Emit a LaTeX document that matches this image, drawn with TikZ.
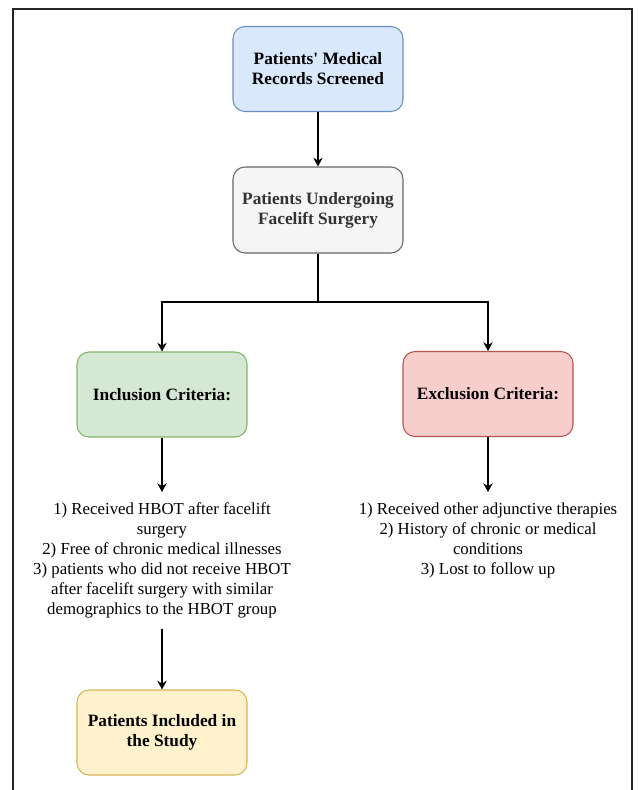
\documentclass[tikz,border=0pt]{standalone}
\usepackage{fontspec}
\setmainfont{Liberation Serif}
\usetikzlibrary{arrows.meta}
\definecolor{bluefill}{HTML}{DAE8FC}\definecolor{blueline}{HTML}{6C8EBF}
\definecolor{grayfill}{HTML}{F5F5F5}\definecolor{grayline}{HTML}{666666}
\definecolor{greenfill}{HTML}{D5E8D4}\definecolor{greenline}{HTML}{82B366}
\definecolor{redfill}{HTML}{F8CECC}\definecolor{redline}{HTML}{B85450}
\definecolor{yellowfill}{HTML}{FFF2CC}\definecolor{yellowline}{HTML}{D6B656}
\definecolor{darktext}{HTML}{333333}
\tikzset{
  boxnode/.style={draw, rounded corners=9pt, line width=0.8pt, minimum width=127.5pt, minimum height=63.75pt,
    align=center, font=\fontsize{13pt}{15pt}\selectfont\bfseries},
  listnode/.style={align=center, inner sep=6pt, font=\fontsize{12.6pt}{15pt}\selectfont},
  conn/.style={line width=1.1pt, -{Stealth[length=6.5pt,width=7pt]}}
}
\begin{document}
\begin{tikzpicture}[x=0.75pt,y=-0.75pt]
\useasboundingbox (0,0) rectangle (637,790);
\draw[line width=1.1pt, color=black!85] (13,790) -- (13,9) -- (632,9) -- (632,790);
\node[boxnode, fill=bluefill, draw=blueline] (b1) at (318,69) {Patients\textquotesingle{} Medical\\Records Screened};
\node[boxnode, fill=grayfill, draw=grayline, text=darktext, minimum height=64.5pt] (b2) at (318,210) {Patients Undergoing\\Facelift Surgery};
\node[boxnode, fill=greenfill, draw=greenline] (inc) at (162,394.5) {Inclusion Criteria:};
\node[boxnode, fill=redfill, draw=redline] (exc) at (488,394) {Exclusion Criteria:};
\node[listnode, anchor=north, minimum height=102pt] (inctext) at (162,492) {1) Received HBOT after facelift\\surgery\\2) Free of chronic medical illnesses\\3) patients who did not receive HBOT\\after facelift surgery with similar\\demographics to the HBOT group};
\node[listnode, anchor=north, minimum height=72pt] (exctext) at (488,492) {1) Received other adjunctive therapies\\2) History of chronic or medical\\conditions\\3) Lost to follow up};
\node[boxnode, fill=yellowfill, draw=yellowline] (fin) at (162,732.5) {Patients Included in\\the Study};
\draw[conn] (b1) -- (b2);
\coordinate (split) at (318,302);
\draw[line width=1.1pt] (b2.south) -- (split);
\draw[conn] (split) -| (inc.north);
\draw[conn] (split) -| (exc.north);
\draw[conn] (inc.south) -- (inctext.north);
\draw[conn] (exc.south) -- (exctext.north);
\draw[conn] (inctext.south) -- (fin.north);
\end{tikzpicture}
\end{document}
